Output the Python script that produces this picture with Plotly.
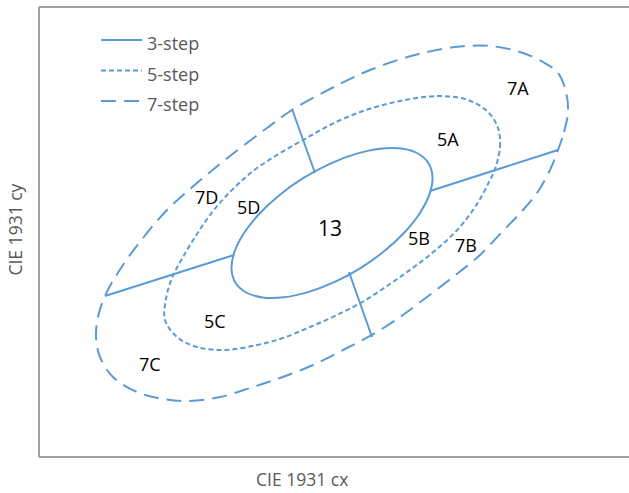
import plotly.graph_objects as go

# Diagram units: horizontal (cx direction) 0..590, vertical (cy direction) 0..450
X_RANGE = [0, 590]
Y_RANGE = [0, 450]

# 3-step ellipse (solid)
step3_x = [390.6, 393.5, 389.5, 378.9, 362.5, 341.4, 316.9, 290.8, 264.9, 240.9, 220.4, 204.9, 195.4,
           192.5, 196.5, 207.1, 223.5, 244.6, 269.1, 295.2, 321.1, 345.1, 365.6, 381.1, 390.6]
step3_y = [263.1, 280.0, 293.8, 303.5, 308.4, 308.3, 303.1, 293.2, 279.3, 262.3, 243.3, 223.7, 204.9,
           188.0, 174.2, 164.5, 159.6, 159.7, 164.9, 174.8, 188.7, 205.7, 224.7, 244.3, 263.1]

# 5-step contour (dotted)
step5_x = [456, 461, 459, 449, 429, 401, 361, 324, 291, 264, 238, 214, 193, 174, 158, 144, 133, 127,
           126, 138, 158, 186, 218, 244, 271, 298, 325, 351, 375, 398, 420, 438, 450, 456]
step5_y = [288, 310, 329, 345, 357, 361, 356, 346, 332, 317, 302, 286, 267, 246, 223, 200, 179, 158,
           137, 120, 110, 107, 112, 119, 130, 142, 156, 173, 190, 208, 229, 253, 275, 288]

# 7-step contour (dashed)
step7_x = [519, 525, 529, 527, 519, 504, 481, 451, 416, 376, 331, 291, 253, 228, 191, 158, 128, 104,
           82, 66, 59, 57, 61, 74, 98, 124, 148, 181, 214, 241, 274, 308, 338, 361, 384, 414, 441,
           463, 484, 498, 511, 519]
step7_y = [307, 325, 345, 365, 384, 395, 405, 411, 410, 402, 387, 368, 347, 329, 301, 274, 247, 219,
           189, 161, 140, 120, 100, 80, 65, 58, 56, 60, 70, 79, 92, 109, 125, 140, 157, 180, 202,
           225, 247, 264, 287, 307]

# Quadrant dividing lines (start/end)
div_x0 = [253, 310, 66, 391]
div_y0 = [348, 185, 161, 266]
div_x1 = [276, 333, 195, 519]
div_y1 = [284, 120, 202, 307]

# Region labels
label_text = ["13", "5A", "5B", "5C", "5D", "7A", "7B", "7C", "7D"]
label_x = [291, 409, 380, 176, 209, 479, 427, 111, 167]
label_y = [229, 318, 219, 136, 250, 369, 212, 93, 260]

legend_names = ["3-step", "5-step", "7-step"]
legend_dash = ["solid", "5px,3px", "15px,8px"]

BLUE = "#5B9BD5"
FONT = "Open Sans"

fig = go.Figure()

fig.add_trace(go.Scatter(x=step7_x, y=step7_y, mode="lines", name="7-step",
                         line=dict(color=BLUE, width=2, dash=legend_dash[2], shape="spline", smoothing=1.0),
                         hoverinfo="skip"))
fig.add_trace(go.Scatter(x=step5_x, y=step5_y, mode="lines", name="5-step",
                         line=dict(color=BLUE, width=2, dash=legend_dash[1], shape="spline", smoothing=1.0),
                         hoverinfo="skip"))
fig.add_trace(go.Scatter(x=step3_x, y=step3_y, mode="lines", name="3-step",
                         line=dict(color=BLUE, width=2, shape="spline", smoothing=1.0),
                         hoverinfo="skip"))

for x0, y0, x1, y1 in zip(div_x0, div_y0, div_x1, div_y1):
    fig.add_trace(go.Scatter(x=[x0, x1], y=[y0, y1], mode="lines",
                             line=dict(color=BLUE, width=2), hoverinfo="skip", showlegend=False))

annotations = []
for t, x, y in zip(label_text, label_x, label_y):
    annotations.append(dict(x=x, y=y, xref="x", yref="y", text=t, showarrow=False,
                            font=dict(family=FONT, size=21 if t == "13" else 18, color="#000000"),
                            xanchor="center", yanchor="middle"))

# Manual legend (top-left)
shapes = []
leg_y = [417, 386.5, 356]
for name, dash, ly in zip(legend_names, legend_dash, leg_y):
    shapes.append(dict(type="line", xref="x", yref="y", x0=62, x1=103, y0=ly, y1=ly,
                       line=dict(color=BLUE, width=2, dash=dash)))
    annotations.append(dict(x=106, y=ly - 3, xref="x", yref="y", text=name, showarrow=False,
                            xanchor="left", yanchor="middle",
                            font=dict(family=FONT, size=18, color="#595959")))

# Frame: left, top, bottom
FRAME = "#A0A0A0"
shapes += [
    dict(type="line", xref="paper", yref="paper", x0=0, x1=0, y0=0, y1=1, line=dict(color=FRAME, width=2)),
    dict(type="line", xref="paper", yref="paper", x0=0, x1=1, y0=1, y1=1, line=dict(color=FRAME, width=2)),
    dict(type="line", xref="paper", yref="paper", x0=0, x1=1, y0=0, y1=0, line=dict(color=FRAME, width=2)),
]

# Axis titles
annotations.append(dict(x=0.446, y=-0.049, xref="paper", yref="paper", text="CIE 1931 cx",
                        showarrow=False, xanchor="center", yanchor="middle",
                        font=dict(family=FONT, size=17.5, color="#595959")))
annotations.append(dict(x=-0.041, y=0.505, xref="paper", yref="paper", text="CIE 1931 cy",
                        showarrow=False, xanchor="center", yanchor="middle", textangle=-90,
                        font=dict(family=FONT, size=17.5, color="#595959")))

fig.update_layout(
    width=629, height=493,
    margin=dict(l=39, r=0, t=7, b=36),
    paper_bgcolor="white", plot_bgcolor="white",
    showlegend=False,
    xaxis=dict(range=X_RANGE, visible=False, fixedrange=True),
    yaxis=dict(range=Y_RANGE, visible=False, fixedrange=True),
    shapes=shapes, annotations=annotations,
)

fig.write_html("out.html", config={"displayModeBar": False},
               post_script="document.body.style.margin='0';document.body.style.overflow='hidden';")
